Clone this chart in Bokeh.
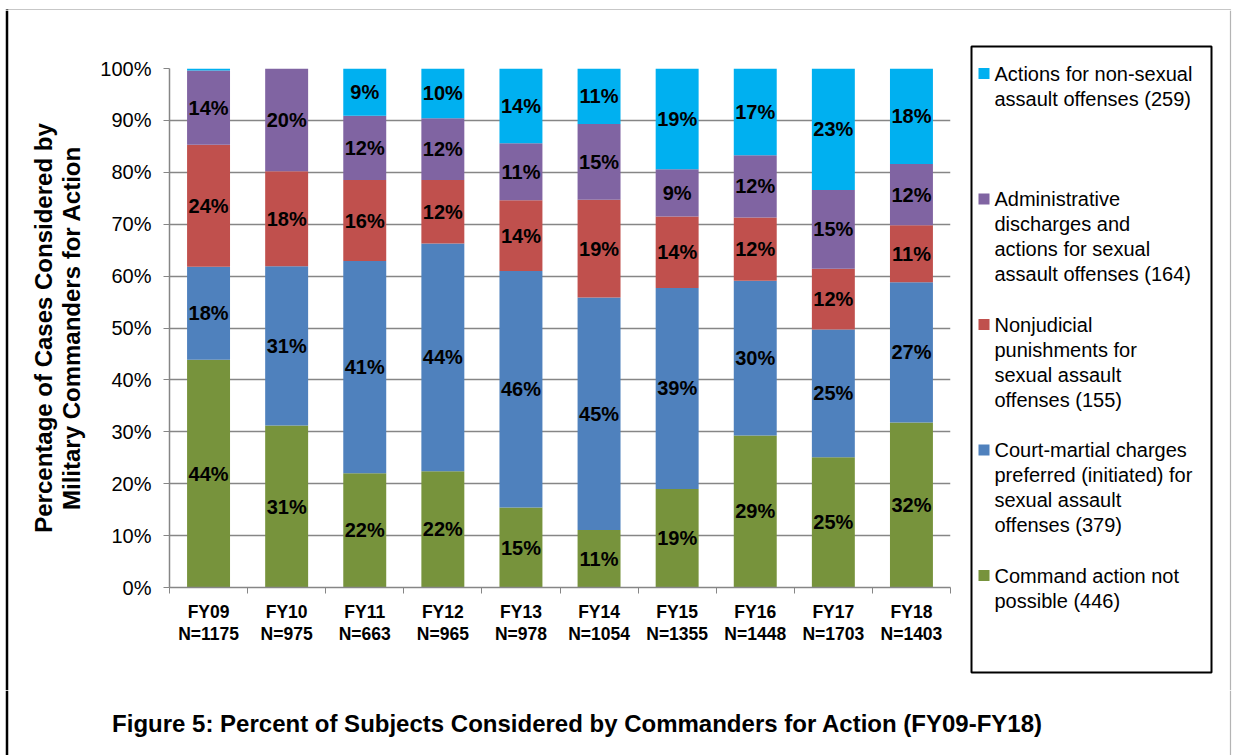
from bokeh.plotting import figure
from bokeh.models import Range1d, FixedTicker, PrintfTickFormatter, ColumnDataSource
from bokeh.layouts import row, column
from bokeh.core.properties import value
from bokeh.embed import file_html
from bokeh.resources import INLINE

# ---------------- data ----------------
years = ["FY09", "FY10", "FY11", "FY12", "FY13", "FY14", "FY15", "FY16", "FY17", "FY18"]
n_subjects = [1175, 975, 663, 965, 978, 1054, 1355, 1448, 1703, 1403]

command_not_possible = [43.9, 31.2, 22.0, 22.4, 15.4, 11.1, 19.0, 29.3, 25.1, 31.8]
court_martial = [17.9, 30.7, 40.9, 43.9, 45.6, 44.8, 38.7, 29.8, 24.6, 27.0]
nonjudicial = [23.5, 18.3, 15.6, 12.2, 13.6, 18.8, 13.8, 12.2, 11.7, 11.0]
admin_discharges = [14.3, 19.8, 12.4, 11.9, 11.0, 14.6, 9.1, 12.0, 15.2, 11.8]
non_sexual = [0.4, 0.0, 9.1, 9.6, 14.4, 10.7, 19.4, 16.7, 23.4, 18.4]

series_keys = ["command", "court", "njp", "admin", "nonsex"]
series_values = [command_not_possible, court_martial, nonjudicial, admin_discharges, non_sexual]
series_colors = ["#77933C", "#4F81BD", "#C0504D", "#8064A2", "#00B0F0"]

legend_labels = [
    ["Actions for non-sexual", "assault offenses (259)"],
    ["Administrative", "discharges and", "actions for sexual", "assault offenses (164)"],
    ["Nonjudicial", "punishments for", "sexual assault", "offenses (155)"],
    ["Court-martial charges", "preferred (initiated) for", "sexual assault", "offenses (379)"],
    ["Command action not", "possible (446)"],
]
legend_colors = ["#00B0F0", "#8064A2", "#C0504D", "#4F81BD", "#77933C"]

y_title = "Percentage of Cases Considered by\nMilitary Commanders for Action"
fig_title = "Figure 5: Percent of Subjects Considered by Commanders for Action (FY09-FY18)"

FONT = "Liberation Sans"
GRAY = "#868686"

# page geometry (pixels)
PAGE_W, PAGE_H = 1236, 755
EDGE = 10            # top strip height / left strip width
SPLIT_X = 969        # main chart | legend
SPLIT_Y = 690        # chart row | caption
FRAME_L, FRAME_R, FRAME_T, FRAME_B = 169, 950, 68, 587


def blank(w, h, x0, x1, y0, y1):
    """A figure whose frame fills the whole canvas, with page-pixel ranges (y downward)."""
    f = figure(width=w, height=h, x_range=Range1d(x0, x1), y_range=Range1d(y1, y0),
               output_backend="svg", toolbar_location=None, min_border=0,
               x_axis_location=None, y_axis_location=None, title=None)
    f.frame_align = False
    f.grid.visible = False
    f.outline_line_color = None
    f.background_fill_color = "white"
    f.border_fill_color = "white"
    return f


def frame_lines(f, y0, y1, left=True, right=True):
    if left:
        f.segment(x0=[6.5], y0=[y0], x1=[6.5], y1=[y1], line_color="black", line_width=2.5)
    if right:
        f.segment(x0=[1230], y0=[y0], x1=[1230], y1=[y1], line_color="#b4b4b4", line_width=1.2)


# ---------------- main chart ----------------
main_w = SPLIT_X - EDGE
main_h = SPLIT_Y - EDGE
p = figure(width=main_w, height=main_h, x_range=Range1d(0, len(years)), y_range=Range1d(0, 100),
           output_backend="svg", toolbar_location=None, title=None,
           min_border_left=FRAME_L - EDGE, min_border_right=SPLIT_X - FRAME_R,
           min_border_top=FRAME_T - EDGE, min_border_bottom=SPLIT_Y - FRAME_B)
p.frame_align = False
p.outline_line_color = None
p.background_fill_color = "white"
p.border_fill_color = "white"

xs = [i + 0.5 for i in range(len(years))]
data = {"x": xs}
for k, v in zip(series_keys, series_values):
    data[k] = v
src = ColumnDataSource(data)
p.vbar_stack(series_keys, x="x", width=0.55, fill_color=series_colors, line_color=None, source=src)

# segment labels
lx, ly, lt = [], [], []
for i in range(len(years)):
    base = 0.0
    for vals in series_values:
        v = vals[i]
        r = int(v + 0.5)
        if r >= 1:
            lx.append(xs[i]); ly.append(base + v / 2.0); lt.append(f"{r}%")
        base += v
p.text(x=lx, y=ly, text=lt, text_align="center", text_baseline="middle",
       text_font=value(FONT), text_font_style="bold", text_font_size="20px", text_color="black")

xa = p.xaxis[0]
xa.ticker = FixedTicker(ticks=xs, minor_ticks=list(range(len(years) + 1)))
xa.major_label_overrides = {x: f"{y}\nN={n}" for x, y, n in zip(xs, years, n_subjects)}
xa.major_tick_out = 0
xa.major_tick_in = 0
xa.minor_tick_out = 6
xa.minor_tick_in = 0
xa.minor_tick_line_color = GRAY
xa.axis_line_color = GRAY
xa.axis_line_width = 1.5
xa.major_label_text_font = FONT
xa.major_label_text_font_style = "bold"
xa.major_label_text_font_size = "17.5px"
xa.major_label_text_color = "black"
xa.major_label_text_line_height = 1.12
xa.major_label_standoff = 8

ya = p.yaxis[0]
ya.ticker = FixedTicker(ticks=list(range(0, 101, 10)))
ya.formatter = PrintfTickFormatter(format="%d%%")
ya.major_tick_out = 6
ya.major_tick_in = 0
ya.minor_tick_out = 0
ya.minor_tick_in = 0
ya.major_tick_line_color = GRAY
ya.axis_line_color = GRAY
ya.axis_line_width = 1.5
ya.major_label_text_font = FONT
ya.major_label_text_font_size = "20px"
ya.major_label_text_color = "black"
ya.major_label_standoff = 12
ya.axis_label = y_title
ya.axis_label_text_font = FONT
ya.axis_label_text_font_style = "bold"
ya.axis_label_text_font_size = "24px"
ya.axis_label_text_line_height = 1.05
ya.axis_label_text_color = "black"
ya.axis_label_standoff = 12

p.xgrid.visible = False
p.ygrid.ticker = FixedTicker(ticks=list(range(10, 101, 10)))
p.ygrid.grid_line_color = GRAY
p.ygrid.grid_line_width = 1.5

# ---------------- outer frame strips ----------------
top = blank(PAGE_W, EDGE, 0, PAGE_W, 0, EDGE)
top.segment(x0=[6], y0=[8], x1=[1230], y1=[8], line_color="#222222", line_width=1.5)
frame_lines(top, 7, EDGE)

left = blank(EDGE, main_h, 0, EDGE, EDGE, SPLIT_Y)
frame_lines(left, EDGE, SPLIT_Y, right=False)

# ---------------- legend ----------------
leg = blank(PAGE_W - SPLIT_X, main_h, SPLIT_X, PAGE_W, EDGE, SPLIT_Y)
frame_lines(leg, EDGE, SPLIT_Y, left=False)
leg.quad(left=[971], right=[1211], top=[46], bottom=[672], fill_color=None,
         line_color="black", line_width=2)
sq_l, sq_r, sq_t, sq_b, sq_c = [], [], [], [], []
tx, ty, tt = [], [], []
for k, (lines, col) in enumerate(zip(legend_labels, legend_colors)):
    y0 = 73 + 125.5 * k
    sq_l.append(978); sq_r.append(989); sq_t.append(y0 - 5.5); sq_b.append(y0 + 5.5); sq_c.append(col)
    for j, line in enumerate(lines):
        tx.append(994); ty.append(y0 + 25 * j); tt.append(line)
leg.quad(left=sq_l, right=sq_r, top=sq_t, bottom=sq_b, fill_color=sq_c, line_color=None)
leg.text(x=tx, y=ty, text=tt, text_align="left", text_baseline="middle",
         text_font=value(FONT), text_font_size="20px", text_color="black")

# ---------------- caption ----------------
cap = blank(PAGE_W, PAGE_H - SPLIT_Y, 0, PAGE_W, SPLIT_Y, PAGE_H)
frame_lines(cap, SPLIT_Y, PAGE_H)
cap.text(x=[577], y=[723], text=[fig_title], text_align="center", text_baseline="middle",
         text_font=value(FONT), text_font_style="bold", text_font_size="24px", text_color="black")

layout = column(top, row(left, p, leg), cap)
open("out.html", "w").write(file_html(layout, INLINE))
